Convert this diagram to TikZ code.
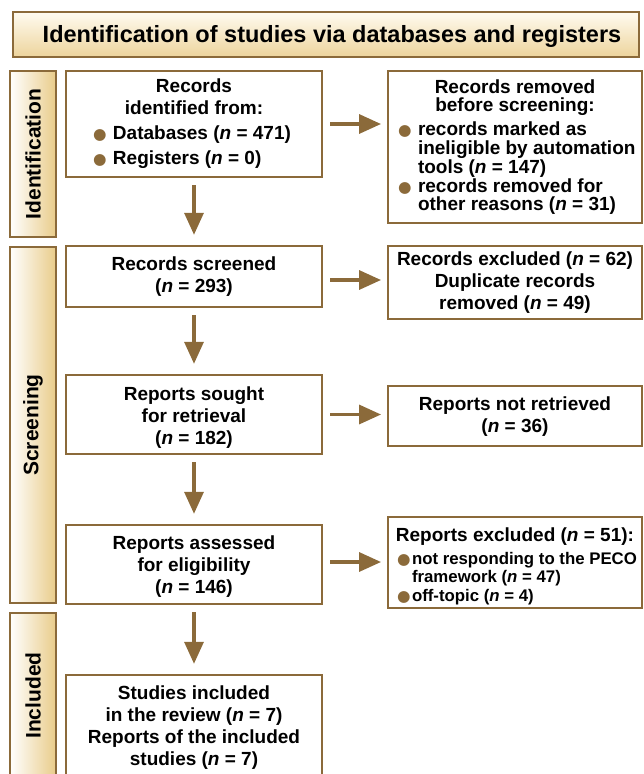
\documentclass[tikz,border=0pt]{standalone}
\usepackage{fontspec}
\setmainfont{Liberation Sans}
\newfontfamily\symfont{DejaVu Sans}
\usetikzlibrary{arrows.meta}
\definecolor{brn}{HTML}{8B6A3A}
\definecolor{tanc}{HTML}{E9CC8A}
\definecolor{titletop}{HTML}{FFFBF0}
\definecolor{titlebot}{HTML}{EDD49C}
\newcommand{\bdot}{\textcolor{brn}{\fontsize{15.5}{15.5}\selectfont\symfont ●}}
\newcommand{\bitem}[3]{\par\noindent\hangindent=#2\hangafter=1\makebox[#2][l]{\hspace{#1}\bdot}#3}
\begin{document}
\begin{tikzpicture}[x=1pt,y=-1pt,
  every node/.style={font=\bfseries\fontsize{19}{22}\selectfont, text=black},
  box/.style={draw=brn, line width=2.4pt, fill=white, inner sep=0pt, minimum width=256pt},
  rbox/.style={box, minimum width=253.5pt},
  side/.style={draw=brn, line width=2.4pt, left color=white, right color=tanc, inner sep=0pt, minimum width=46pt},
  titlebox/.style={draw=brn, line width=2.4pt, top color=titletop, bottom color=titlebot, inner sep=0pt, minimum width=626pt, minimum height=45pt},
  arr/.style={draw=brn, line width=3.3pt, -{Triangle[length=22pt,width=19pt]}}]
\useasboundingbox (0,0) rectangle (643,774);
\clip (0,0) rectangle (643,774);

\node[titlebox] (title) at (326,34.5) {\fontsize{23.5}{24}\selectfont\hspace{12pt}\rule{0pt}{21pt}Identification of studies via databases and registers};

\node[side, minimum height=166pt] (sid) at (33,154) {\rotatebox{90}{\fontsize{21}{21}\selectfont Identification}};
\node[side, minimum height=356pt] (sscr) at (33,425) {\rotatebox{90}{\fontsize{21}{21}\selectfont Screening}};
\node[side, minimum height=165pt] (sinc) at (33,695.5) {\rotatebox{90}{\fontsize{21}{21}\selectfont Included}};

\node[box, minimum height=106pt] (rec) at (194,124) {\begin{minipage}{240pt}\centering Records\\identified from:\par\raggedright\vspace{3pt}
\bitem{19pt}{39pt}{Databases (\textit{n} = 471)}\par\vspace{3pt}
\bitem{19pt}{39pt}{Registers (\textit{n} = 0)}\end{minipage}};

\node[rbox, minimum height=152pt] (rem) at (515,147) {\begin{minipage}{246pt}\fontsize{19}{18.8}\selectfont\centering Records removed\\before screening:\par\raggedright\vspace{5pt}
\bitem{6pt}{26pt}{records marked as\newline\mbox{ineligible by automation}\newline tools (\textit{n} = 147)}\par
\bitem{6pt}{26pt}{records removed for\newline other reasons (\textit{n} = 31)}\end{minipage}};

\node[box, minimum height=61pt] (scr) at (194,276.5) {\begin{minipage}{240pt}\centering Records screened\\(\textit{n} = 293)\end{minipage}};

\node[rbox, minimum height=73pt] (exc) at (515,282.5) {\begin{minipage}{246pt}\centering \mbox{Records excluded (\textit{n} = 62)}\\Duplicate records\\removed (\textit{n} = 49)\end{minipage}};

\node[box, minimum height=79pt] (sou) at (194,414.5) {\begin{minipage}{240pt}\vspace*{7pt}\centering Reports sought\\for retrieval\\(\textit{n} = 182)\end{minipage}};

\node[rbox, minimum height=60pt] (nre) at (515,416) {\begin{minipage}{246pt}\vspace*{2pt}\centering Reports not retrieved\\(\textit{n} = 36)\end{minipage}};

\node[box, minimum height=79pt] (ass) at (194,564.5) {\begin{minipage}{240pt}\vspace*{5pt}\centering Reports assessed\\for eligibility\\(\textit{n} = 146)\end{minipage}};

\node[rbox, minimum height=91pt] (rex) at (515,562.5) {\begin{minipage}{250pt}\vspace*{8pt}\centering \mbox{Reports excluded (\textit{n} = 51):}\par\raggedright\fontsize{16.8}{18.5}\selectfont\vspace{4pt}
\bitem{7pt}{22pt}{\mbox{not responding to the PECO}\newline framework (\textit{n} = 47)}\par
\bitem{7pt}{22pt}{off-topic (\textit{n} = 4)}\end{minipage}};

\node[box, minimum height=103pt] (stu) at (194,726.5) {\begin{minipage}{240pt}\vspace*{2pt}\centering Studies included\\in the review (\textit{n} = 7)\\Reports of the included\\studies (\textit{n} = 7)\end{minipage}};

\draw[arr, shorten <=7pt, shorten >=10pt] (rec) -- (scr);
\draw[arr, shorten <=7pt, shorten >=10pt] (scr) -- (sou);
\draw[arr, shorten <=7pt, shorten >=10pt] (sou) -- (ass);
\draw[arr, shorten <=7pt, shorten >=10pt] (ass) -- (stu);
\draw[arr, shorten <=7pt, shorten >=6pt] (rec.east) -- (rec.east -| rem.west);
\draw[arr, shorten <=7pt, shorten >=6pt] ([yshift=-3.5pt]scr.east) -- ([yshift=-3.5pt]scr.east -| exc.west);
\draw[arr, shorten <=7pt, shorten >=6pt] (sou.east) -- (sou.east -| nre.west);
\draw[arr, shorten <=7pt, shorten >=6pt] ([yshift=2.5pt]ass.east) -- ([yshift=2.5pt]ass.east -| rex.west);
\end{tikzpicture}
\end{document}
